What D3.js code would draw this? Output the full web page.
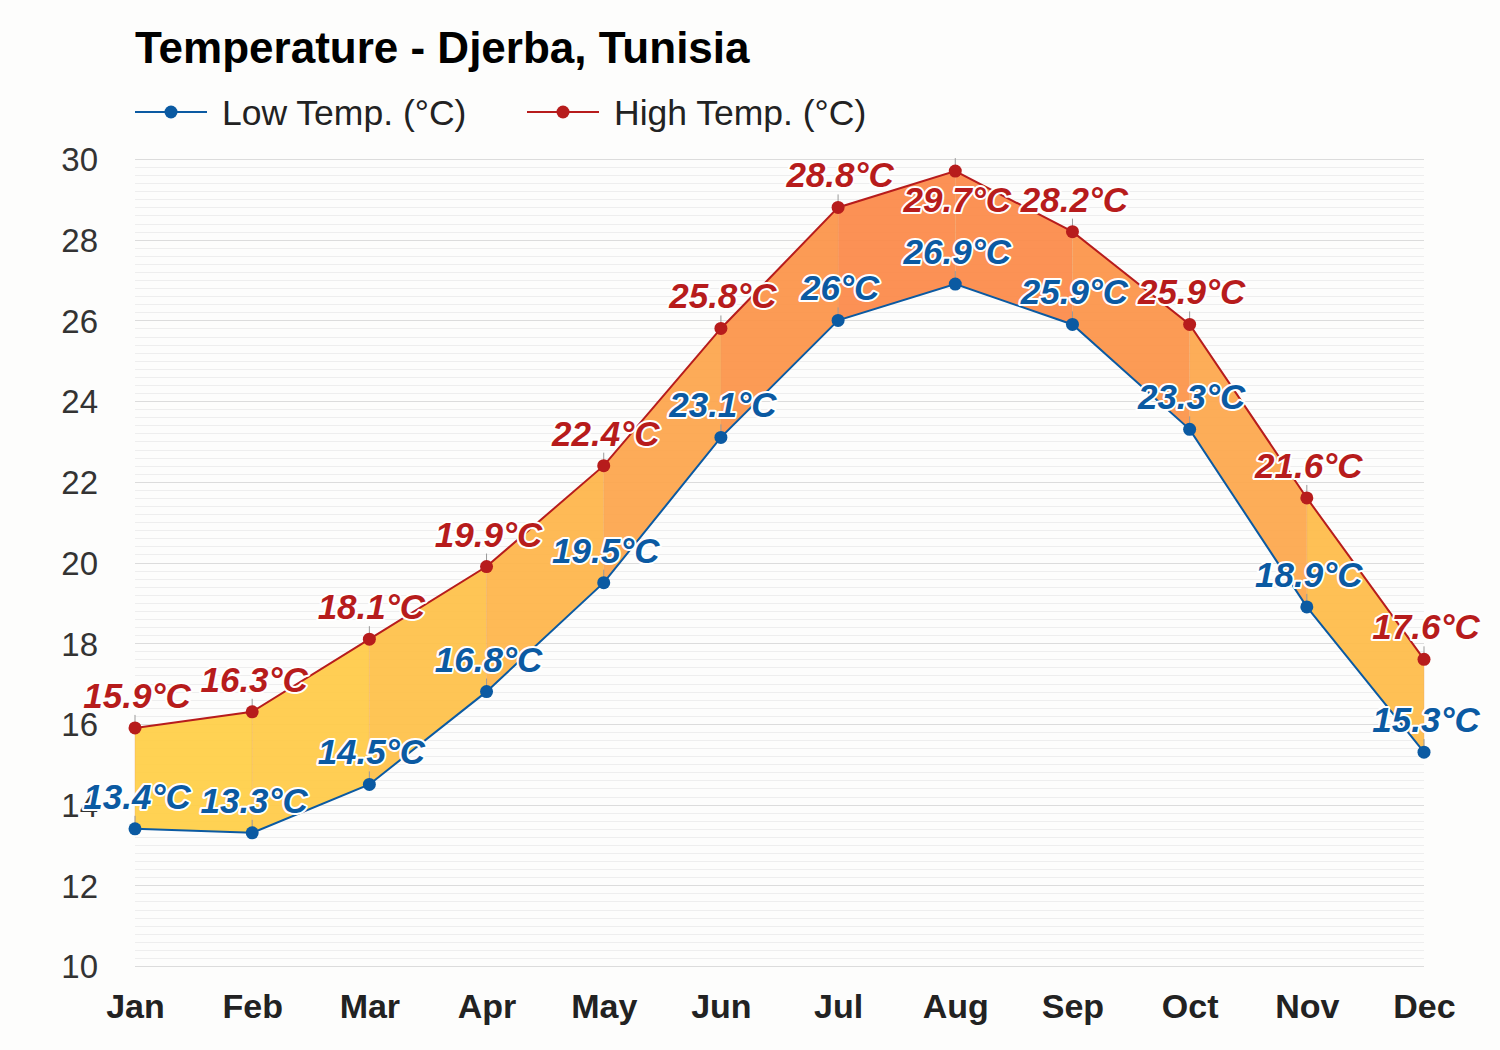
<!DOCTYPE html>
<html><head><meta charset="utf-8">
<script src="https://cdn.jsdelivr.net/npm/d3@7"></script>
<style>
html,body{margin:0;padding:0;background:#fdfdfc;}
svg{display:block;font-family:"Liberation Sans",Arial,sans-serif;}
</style></head>
<body>
<script>
const months = ["Jan","Feb","Mar","Apr","May","Jun","Jul","Aug","Sep","Oct","Nov","Dec"];
const lowTemps = [13.4,13.3,14.5,16.8,19.5,23.1,26,26.9,25.9,23.3,18.9,15.3];
const highTemps = [15.9,16.3,18.1,19.9,22.4,25.8,28.8,29.7,28.2,25.9,21.6,17.6];
const yTicks = [10,12,14,16,18,20,22,24,26,28,30];
const titleText = "Temperature - Djerba, Tunisia";
const seriesNames = ["Low Temp. (°C)","High Temp. (°C)"];

(function(){
const W = 1500, H = 1050;
const pLeft = 135, pRight = 1424, pTop = 159, pBottom = 966;
const lowColor = "#0b5aa2", highColor = "#b71c1c";

const svg = d3.select("body").append("svg").attr("width", W).attr("height", H);
svg.append("rect").attr("width", W).attr("height", H).attr("fill", "#fdfdfc");

const x = d3.scalePoint().domain(months).range([pLeft, pRight]);
const y = d3.scaleLinear().domain([10, 30]).range([pBottom, pTop]);

// minor gridlines
const minor = d3.range(10, 30.0001, 0.2).map(v => +v.toFixed(1)).filter(v => Math.abs(v/2 - Math.round(v/2)) > 1e-6);
svg.append("g").selectAll("line").data(minor).join("line")
  .attr("x1", pLeft).attr("x2", pRight)
  .attr("y1", d => Math.round(y(d)) + 0.5).attr("y2", d => Math.round(y(d)) + 0.5)
  .attr("stroke", "#eeeeee").attr("stroke-width", 1);
// major gridlines
svg.append("g").selectAll("line").data(yTicks).join("line")
  .attr("x1", pLeft).attr("x2", pRight)
  .attr("y1", d => Math.round(y(d)) + 0.5).attr("y2", d => Math.round(y(d)) + 0.5)
  .attr("stroke", "#dcdcdc").attr("stroke-width", 1);

// y axis labels
const yAxis = d3.axisLeft(y).tickValues(yTicks).tickSize(0).tickPadding(0);
const gy = svg.append("g").attr("transform", `translate(${pLeft - 37},0)`).call(yAxis);
gy.select(".domain").remove();
gy.selectAll("text").attr("font-size", 33).attr("fill", "#333").attr("font-family", "Liberation Sans, Arial, sans-serif").attr("dy", "0.36em");

// x axis labels
const xAxis = d3.axisBottom(x).tickSize(0).tickPadding(0);
const gx = svg.append("g").attr("transform", `translate(0,${pBottom + 52})`).call(xAxis);
gx.select(".domain").remove();
gx.selectAll("text").attr("font-size", 34).attr("font-weight", "bold").attr("fill", "#222").attr("font-family", "Liberation Sans, Arial, sans-serif").attr("dy", 0);

// fill segments
const color = d3.scaleLinear().domain([14.5, 22, 27.8]).range(["#ffcf44", "#fda84a", "#fc8846"]);
const segs = d3.range(months.length - 1).map(i => ({
  i, avg: (lowTemps[i] + lowTemps[i+1] + highTemps[i] + highTemps[i+1]) / 4
}));
svg.append("g").selectAll("path").data(segs).join("path")
  .attr("d", s => {
    const i = s.i;
    return `M${x(months[i])},${y(highTemps[i])}L${x(months[i+1])},${y(highTemps[i+1])}L${x(months[i+1])},${y(lowTemps[i+1])}L${x(months[i])},${y(lowTemps[i])}Z`;
  })
  .attr("fill", s => color(s.avg)).attr("fill-opacity", 0.92);

// faint vertical lines between high and low
svg.append("g").selectAll("line").data(months).join("line")
  .attr("x1", d => x(d)).attr("x2", d => x(d))
  .attr("y1", (d, i) => y(highTemps[i])).attr("y2", (d, i) => y(lowTemps[i]))
  .attr("stroke", "#e6a060").attr("stroke-opacity", 0.35).attr("stroke-width", 1);

// small ticks above points
function ticks(vals) {
  svg.append("g").selectAll("line").data(vals).join("line")
    .attr("x1", (d, i) => x(months[i])).attr("x2", (d, i) => x(months[i]))
    .attr("y1", d => y(d) - 13).attr("y2", d => y(d))
    .attr("stroke", "#999").attr("stroke-width", 1);
}
ticks(lowTemps); ticks(highTemps);

// lines
const line = d3.line().x((d, i) => x(months[i])).y(d => y(d));
svg.append("path").datum(lowTemps).attr("d", line).attr("fill", "none").attr("stroke", lowColor).attr("stroke-width", 2);
svg.append("path").datum(highTemps).attr("d", line).attr("fill", "none").attr("stroke", highColor).attr("stroke-width", 2);

// points
function points(vals, c) {
  svg.append("g").selectAll("circle").data(vals).join("circle")
    .attr("cx", (d, i) => x(months[i])).attr("cy", d => y(d)).attr("r", 6.5)
    .attr("fill", c);
}
points(lowTemps, lowColor); points(highTemps, highColor);

// labels
function labels(vals, c) {
  svg.append("g").selectAll("text").data(vals).join("text")
    .attr("x", (d, i) => x(months[i]) + 2)
    .attr("y", d => (y(d) - 20 - 25 < pTop) ? y(d) + 41 : y(d) - 20)
    .attr("text-anchor", "middle")
    .attr("font-size", 35).attr("font-weight", "bold").attr("font-style", "italic")
    .attr("fill", c).attr("stroke", "#fff").attr("stroke-width", 4).attr("stroke-linejoin", "round")
    .attr("paint-order", "stroke")
    .text(d => `${d}°C`);
}
labels(lowTemps, lowColor); labels(highTemps, highColor);

// title
svg.append("text").attr("x", 135).attr("y", 63).attr("font-size", 44).attr("font-weight", "bold").attr("fill", "#000").text(titleText);

// legend
const legendItems = [{name: seriesNames[0], c: lowColor, x0: 135}, {name: seriesNames[1], c: highColor, x0: 527}];
const lg = svg.append("g").selectAll("g").data(legendItems).join("g").attr("transform", d => `translate(${d.x0},112)`);
lg.append("line").attr("x1", 0).attr("x2", 72).attr("y1", 0).attr("y2", 0).attr("stroke", d => d.c).attr("stroke-width", 2);
lg.append("circle").attr("cx", 36).attr("cy", 0).attr("r", 6.5).attr("fill", d => d.c);
lg.append("text").attr("x", 87).attr("y", 13).attr("font-size", 35.5).attr("fill", "#222").text(d => d.name);
})();
</script>
</body></html>
